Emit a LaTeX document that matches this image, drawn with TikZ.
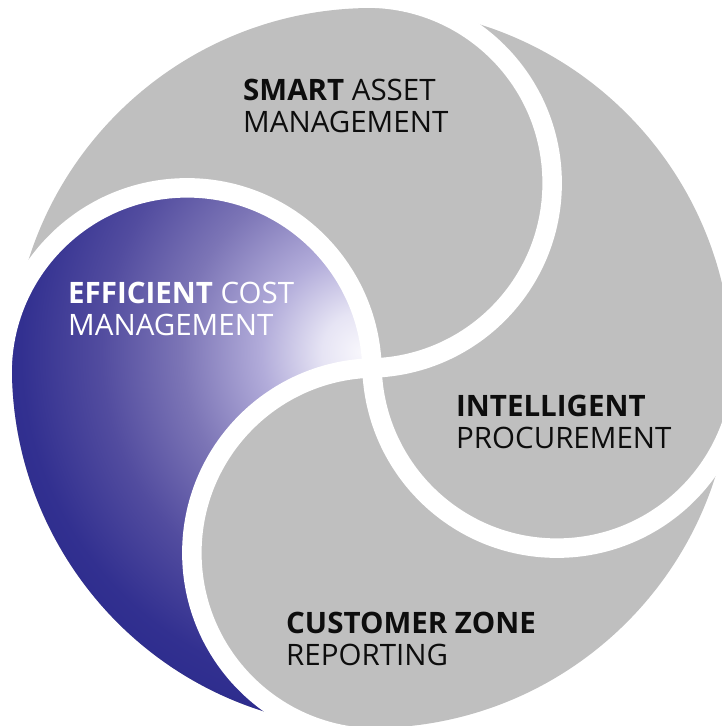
\documentclass[tikz,border=0pt]{standalone}
\usepackage{fontspec}
\setmainfont{Open Sans}
\definecolor{piegray}{RGB}{191,191,191}
\definecolor{inkdark}{RGB}{13,13,13}
\definecolor{pA}{RGB}{248,247,252}
\definecolor{pB}{RGB}{230,228,244}
\definecolor{pC}{RGB}{178,172,218}
\definecolor{pD}{RGB}{124,117,182}
\definecolor{pE}{RGB}{82,76,159}
\definecolor{pF}{RGB}{50,48,144}
\definecolor{pG}{RGB}{42,42,140}
\pgfdeclareradialshading{purpleglow}{\pgfpoint{0bp}{0bp}}{%
  color(0bp)=(pA); color(40bp)=(pB); color(100bp)=(pC); color(180bp)=(pD);
  color(260bp)=(pE); color(340bp)=(pF); color(400bp)=(pG)}
\begin{document}
\begin{tikzpicture}[x=1pt,y=1pt,
  gapband/.style={draw=white,line width=19.5pt},
  lbl/.style={anchor=base west,inner sep=0pt,font=\fontsize{29.5}{31.5}\selectfont},
  darklbl/.style={lbl,text=inkdark},
  lightlbl/.style={lbl,text=white}]
\useasboundingbox (0,0) rectangle (722,726);
\clip (0,0) rectangle (722,726);
\coordinate (O) at (372,358);
% whole disc
\fill[piegray] (O) circle[radius=360];
% purple piece
\begin{scope}
  \clip (O) arc[start angle=1.5,end angle=154.8,radius=185]
            arc[start angle=168.15,end angle=258.15,radius=360]
            arc[start angle=244.8,end angle=91.5,radius=185] -- cycle;
  \node[inner sep=0pt,outer sep=0pt] (glow) at (362,374) {\pgfuseshading{purpleglow}};
\end{scope}
% white separating bands
\draw[gapband] (O) arc[start angle=-88.5,end angle=91.5,radius=185];
\draw[gapband] (O) arc[start angle=181.5,end angle=361.5,radius=185];
\draw[gapband] (O) arc[start angle=91.5,end angle=271.5,radius=185];
\draw[gapband] (O) arc[start angle=1.5,end angle=181.5,radius=185];
% labels
\node[darklbl] (smart) at (243,625)
  {\begin{tabular}[t]{@{}l@{}}\textbf{SMART} ASSET\\MANAGEMENT\end{tabular}};
\node[lightlbl] (cost) at (68,422)
  {\begin{tabular}[t]{@{}l@{}}\textbf{EFFICIENT} COST\\MANAGEMENT\end{tabular}};
\node[darklbl] (proc) at (456,309)
  {\begin{tabular}[t]{@{}l@{}}\textbf{INTELLIGENT}\\PROCUREMENT\end{tabular}};
\node[darklbl] (cust) at (286,92)
  {\begin{tabular}[t]{@{}l@{}}\textbf{CUSTOMER ZONE}\\REPORTING\end{tabular}};
\end{tikzpicture}
\end{document}
